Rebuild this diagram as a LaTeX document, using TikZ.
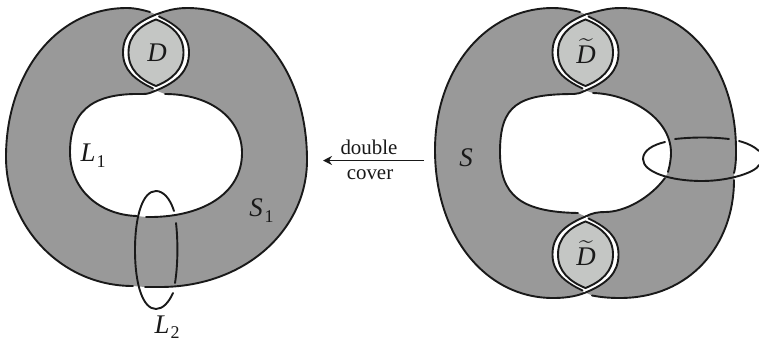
\documentclass[tikz,border=0pt]{standalone}
\usepackage{fontspec}
\usepackage{amsmath}
\usetikzlibrary{arrows.meta}
\setmainfont{Liberation Serif}
\definecolor{bandgray}{HTML}{999999}
\definecolor{discgray}{HTML}{C4C6C4}
\tikzset{
  line/.style={line width=1.9bp,black!90,line cap=round},
  lbl/.style={font=\fontsize{27}{29}\selectfont\itshape,inner sep=0pt,text=black!90},
  sublbl/.style={font=\fontsize{18}{20}\selectfont,inner sep=0pt,text=black!90},
  small/.style={font=\fontsize{21}{23}\selectfont,inner sep=0pt,text=black!90},
  lensdisc/.pic={
    \fill[white] (0,-38) .. controls (22,-29) and (33,-18) .. (33,0) .. controls (33,18) and (22,29) .. (0,38) .. controls (-22,29) and (-33,18) .. (-33,0) .. controls (-33,-18) and (-22,-29) .. (0,-38) -- cycle;
    \draw[line] (0,-38) .. controls (-22,-29) and (-33,-18) .. (-33,0) .. controls (-33,17) and (-22,27) .. (-3,36);
    \draw[line] (3,-36) .. controls (22,-27) and (33,-17) .. (33,0) .. controls (33,18) and (22,29) .. (0,38);
    \draw[line,fill=discgray] (0,-33) .. controls (16,-27) and (27.5,-17) .. (27.5,0) .. controls (27.5,17) and (16,27) .. (0,33.5) .. controls (-16,27) and (-27.5,17) .. (-27.5,0) .. controls (-27.5,-17) and (-16,-27) .. (0,-33) -- cycle;
  }
}
\begin{document}
\begin{tikzpicture}[x=1bp,y=-1bp]
\useasboundingbox (0,0) rectangle (759,342);
% left band
\fill[bandgray,even odd rule]
  (150,12) .. controls (143,10) and (135,8) .. (127,8) .. controls (55,8) and (6,75) .. (6,157) .. controls (6,225) and (60,286) .. (133,286) -- (145,287) -- (160,287) .. controls (245,287) and (307,230) .. (307,160) .. controls (307,75) and (260,8) .. (187,8) .. controls (175,8) and (165,11) .. (156,14.5) -- cycle
  (156,90.5) .. controls (150,93) and (148,94) .. (143,94) .. controls (100,93) and (70,105) .. (70,152) .. controls (70,190) and (100,215) .. (137,216) -- (146,217) .. controls (200,218) and (242,195) .. (242,153) .. controls (242,118) and (210,94) .. (165,94) -- cycle;
\draw[line] (150,12) .. controls (143,10) and (135,8) .. (127,8) .. controls (55,8) and (6,75) .. (6,157) .. controls (6,225) and (60,286) .. (133,286);
\draw[line] (145,287) -- (160,287) .. controls (245,287) and (307,230) .. (307,160) .. controls (307,75) and (260,8) .. (187,8) .. controls (175,8) and (165,11) .. (156,14.5);
\draw[line] (156,90.5) .. controls (150,93) and (148,94) .. (143,94) .. controls (100,93) and (70,105) .. (70,152) .. controls (70,190) and (100,215) .. (137,216);
\draw[line] (146,217) .. controls (200,218) and (242,195) .. (242,153) .. controls (242,118) and (210,94) .. (165,94);
\pic at (156,52.5) {lensdisc};
\node[lbl] (d1) at (157,53) {D};
% left ring
\draw[line] (174,211) .. controls (170,198) and (163,191) .. (156,191) .. controls (143,191) and (135,215) .. (135,250) .. controls (135,285) and (143,309) .. (156,309) .. controls (163,309) and (169,302) .. (173,293);
\draw[line] (176,223) .. controls (178,240) and (178,265) .. (175,283);
\node[lbl] (l1) at (88,153) {L}; \node[sublbl] (l1s) at (101,162) {1};
\node[lbl] (s1) at (256,208) {S}; \node[sublbl] (s1s) at (269,217) {1};
\node[lbl] (l2) at (162,325) {L}; \node[sublbl] (l2s) at (175,333) {2};
% arrow
\coordinate (arrs) at (424,160.5);
\coordinate (arre) at (323,160.5);
\draw[line,line cap=butt,-{Stealth[length=9bp,width=9bp]}] (arrs) -- (arre);
\node[small] (dbl) at (369,147) {double};
\node[small] (cov) at (370,175) {cover};
% right band
\fill[bandgray,even odd rule]
  (580,12) .. controls (572,10) and (563,8) .. (553,8) .. controls (485,8) and (435,70) .. (435,150) .. controls (435,235) and (485,298) .. (553,298) .. controls (563,298) and (575,297) .. (585.5,292.5) -- (592,295.5) .. controls (600,297) and (608,298) .. (620,298) .. controls (690,298) and (734,245) .. (734,180) -- (734,173) .. controls (736,165) and (736,158) .. (736,150) .. controls (736,70) and (690,8) .. (620,8) .. controls (608,8) and (598,11) .. (585.5,14.5) -- cycle
  (585.5,90.5) .. controls (580,93) and (578,94) .. (574,94) .. controls (518,94) and (500,105) .. (500,152) .. controls (500,195) and (520,212) .. (578,213) -- (585.5,216.5) .. controls (592,213) and (598,212) .. (605,212) .. controls (625,212) and (650,198) .. (665,178) -- (668,172) .. controls (670,165) and (671,158) .. (671,153) .. controls (671,118) and (630,94) .. (593,93) -- cycle;
\draw[line] (580,12) .. controls (572,10) and (563,8) .. (553,8) .. controls (485,8) and (435,70) .. (435,150) .. controls (435,235) and (485,298) .. (553,298) .. controls (563,298) and (575,297) .. (585.5,292.5);
\draw[line] (592,295.5) .. controls (600,297) and (608,298) .. (620,298) .. controls (690,298) and (734,245) .. (734,180);
\draw[line] (734,173) .. controls (736,165) and (736,158) .. (736,150) .. controls (736,70) and (690,8) .. (620,8) .. controls (608,8) and (598,11) .. (585.5,14.5);
\draw[line] (585.5,90.5) .. controls (580,93) and (578,94) .. (574,94) .. controls (518,94) and (500,105) .. (500,152) .. controls (500,195) and (520,212) .. (578,213);
\draw[line] (593,93) .. controls (630,94) and (671,118) .. (671,153) .. controls (671,158) and (670,165) .. (668,172);
\draw[line] (665,178) .. controls (650,198) and (625,212) .. (605,212) .. controls (598,212) and (592,213) .. (585.5,216.5);
\pic at (585.5,52.5) {lensdisc};
\pic at (585.5,254.5) {lensdisc};
\node[lbl] (d2) at (586,51) {$\widetilde{\mbox{\itshape D}}$};
\node[lbl] (d3) at (586,253) {$\widetilde{\mbox{\itshape D}}$};
\node[lbl] (s) at (466,158) {S};
% right ring
\draw[line] (665,142) .. controls (652,145) and (643,151) .. (643,159) .. controls (643,172) and (670,181) .. (702,181) .. controls (730,181) and (756,172) .. (759,165);
\draw[line] (675,139) .. controls (693,137) and (712,137) .. (729,139);
\draw[line] (739,141) .. controls (747,143) and (755,147) .. (759,151);
\end{tikzpicture}
\end{document}
